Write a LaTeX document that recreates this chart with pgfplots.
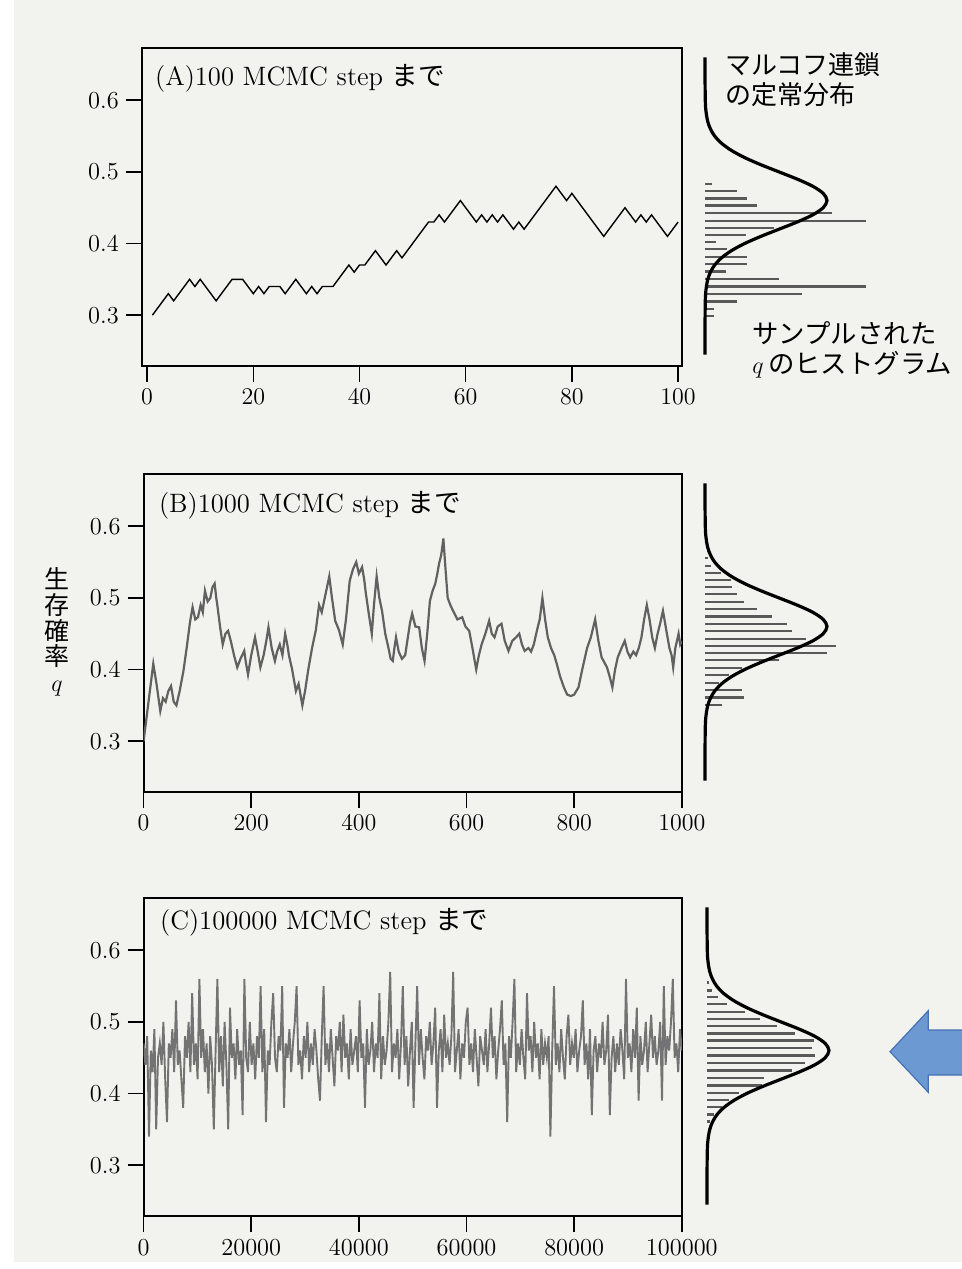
\documentclass[border=0pt]{standalone}
\usepackage{pgfplots}
\pgfplotsset{compat=1.18}
\usepackage{pgfplotstable}
\usepackage{fontspec}
\newfontfamily\cjk{Noto Sans CJK JP}
\definecolor{paper}{RGB}{242,242,239}
\definecolor{arrowfill}{RGB}{108,153,209}
\definecolor{arrowdraw}{RGB}{70,114,180}

% stationary distribution (x = density in px units, y = q)
\pgfplotstableread{
x y
0 0.245
0.1 0.30
0.3 0.32
0.6 0.33
1.4 0.34
2.8 0.35
5.4 0.36
9.7 0.37
16.5 0.38
26.4 0.39
39.6 0.40
55.9 0.41
74.0 0.42
92.1 0.43
107.7 0.44
118.2 0.45
122 0.46
118.2 0.47
107.7 0.48
92.1 0.49
74.0 0.50
55.9 0.51
39.6 0.52
26.4 0.53
16.5 0.54
9.7 0.55
5.4 0.56
2.8 0.57
1.4 0.58
0.6 0.59
0.3 0.60
0.1 0.62
0 0.66
}\curvetab

% trajectory (A)
\pgfplotstableread{
t q
1 0.30
2 0.31
3 0.32
4 0.33
5 0.32
6 0.33
7 0.34
8 0.35
9 0.34
10 0.35
11 0.34
12 0.33
13 0.32
14 0.33
15 0.34
16 0.35
17 0.35
18 0.35
19 0.34
20 0.33
21 0.34
22 0.33
23 0.34
24 0.34
25 0.34
26 0.33
27 0.34
28 0.35
29 0.34
30 0.33
31 0.34
32 0.33
33 0.34
34 0.34
35 0.34
36 0.35
37 0.36
38 0.37
39 0.36
40 0.37
41 0.37
42 0.38
43 0.39
44 0.38
45 0.37
46 0.38
47 0.39
48 0.38
49 0.39
50 0.40
51 0.41
52 0.42
53 0.43
54 0.43
55 0.44
56 0.43
57 0.44
58 0.45
59 0.46
60 0.45
61 0.44
62 0.43
63 0.44
64 0.43
65 0.44
66 0.43
67 0.44
68 0.43
69 0.42
70 0.43
71 0.42
72 0.43
73 0.44
74 0.45
75 0.46
76 0.47
77 0.48
78 0.47
79 0.46
80 0.47
81 0.46
82 0.45
83 0.44
84 0.43
85 0.42
86 0.41
87 0.42
88 0.43
89 0.44
90 0.45
91 0.44
92 0.43
93 0.44
94 0.43
95 0.44
96 0.43
97 0.42
98 0.41
99 0.42
100 0.43
}\trajA

% trajectory (B)
\pgfplotstableread{
t q
0 0.300
5 0.33
10 0.36
18 0.408
24 0.38
31 0.342
36 0.36
41 0.355
46 0.37
51 0.377
56 0.355
61 0.35
67 0.37
74 0.398
80 0.43
86 0.465
91 0.487
96 0.47
101 0.473
106 0.49
110 0.48
114 0.51
119 0.495
124 0.50
128 0.515
132 0.52
135 0.50
137 0.49
142 0.46
147 0.435
152 0.45
157 0.454
162 0.44
168 0.42
174 0.403
180 0.415
187 0.426
190 0.41
194 0.393
200 0.42
207 0.445
212 0.425
217 0.403
223 0.42
228 0.44
232 0.459
238 0.43
244 0.412
248 0.425
253 0.435
258 0.42
263 0.45
267 0.435
270 0.42
276 0.40
283 0.37
288 0.38
295 0.35
300 0.37
306 0.40
313 0.43
320 0.455
326 0.49
331 0.48
338 0.505
345 0.53
350 0.50
356 0.468
363 0.455
370 0.435
376 0.47
383 0.524
389 0.54
395 0.55
400 0.534
406 0.543
410 0.525
413 0.506
418 0.48
424 0.45
428 0.49
433 0.53
438 0.50
443 0.482
449 0.45
455 0.43
459 0.415
463 0.412
466 0.43
469 0.445
474 0.425
480 0.415
486 0.42
491 0.445
495 0.465
499 0.478
505 0.46
512 0.459
517 0.43
522 0.412
527 0.45
532 0.496
537 0.51
542 0.52
546 0.535
549 0.548
553 0.56
557 0.583
561 0.54
565 0.50
570 0.49
575 0.482
583 0.47
592 0.473
598 0.46
605 0.454
611 0.43
618 0.40
623 0.42
628 0.435
635 0.45
642 0.468
647 0.45
652 0.445
658 0.46
665 0.464
671 0.44
678 0.426
685 0.44
692 0.445
698 0.45
703 0.435
708 0.426
715 0.43
720 0.425
725 0.435
731 0.455
736 0.47
741 0.50
746 0.47
751 0.445
757 0.43
763 0.42
768 0.407
774 0.39
781 0.375
787 0.365
794 0.363
800 0.365
808 0.375
815 0.40
824 0.43
831 0.445
839 0.47
845 0.44
851 0.417
856 0.41
861 0.403
866 0.39
871 0.375
876 0.40
881 0.417
888 0.43
894 0.44
899 0.425
904 0.417
910 0.425
915 0.42
920 0.43
925 0.445
930 0.47
935 0.49
940 0.47
945 0.445
950 0.43
955 0.45
960 0.465
965 0.482
970 0.46
977 0.43
981 0.42
984 0.403
988 0.43
994 0.45
997 0.435
1000 0.44
}\trajB

% trajectory (C): 300 samples evenly spread over 0..100000
\pgfplotstableread{
q
0.47
0.44
0.48
0.34
0.46
0.43
0.49
0.35
0.45
0.47
0.44
0.50
0.42
0.36
0.47
0.45
0.49
0.43
0.53
0.44
0.46
0.42
0.38
0.48
0.45
0.50
0.43
0.54
0.44
0.47
0.42
0.56
0.45
0.49
0.43
0.47
0.40
0.48
0.44
0.35
0.46
0.56
0.43
0.48
0.41
0.50
0.44
0.35
0.52
0.45
0.47
0.42
0.49
0.44
0.46
0.37
0.56
0.45
0.43
0.50
0.44
0.47
0.42
0.48
0.45
0.55
0.43
0.49
0.36
0.46
0.44
0.50
0.54
0.45
0.43
0.48
0.46
0.55
0.38
0.47
0.45
0.49
0.43
0.47
0.50
0.55
0.44
0.46
0.42
0.48
0.45
0.50
0.43
0.47
0.44
0.49
0.46
0.42
0.39
0.48
0.55
0.44
0.47
0.43
0.49
0.45
0.41
0.48
0.46
0.50
0.43
0.51
0.45
0.47
0.42
0.49
0.44
0.46
0.48
0.43
0.53
0.45
0.47
0.38
0.49
0.44
0.46
0.50
0.43
0.47
0.45
0.54
0.42
0.48
0.44
0.46
0.50
0.57
0.43
0.47
0.45
0.49
0.42
0.47
0.55
0.44
0.48
0.41
0.46
0.50
0.38
0.47
0.55
0.44
0.49
0.45
0.42
0.48
0.46
0.50
0.44
0.47
0.52
0.38
0.46
0.49
0.43
0.51
0.45
0.47
0.44
0.48
0.57
0.43
0.46
0.49
0.42
0.47
0.45
0.50
0.52
0.44
0.47
0.43
0.49
0.45
0.41
0.48
0.46
0.44
0.49
0.43
0.47
0.52
0.45
0.48
0.42
0.46
0.49
0.53
0.44
0.47
0.36
0.48
0.45
0.50
0.56
0.43
0.47
0.44
0.49
0.45
0.42
0.54
0.46
0.48
0.43
0.50
0.45
0.47
0.42
0.49
0.44
0.47
0.45
0.48
0.34
0.46
0.55
0.44
0.47
0.43
0.49
0.45
0.42
0.48
0.51
0.44
0.47
0.45
0.49
0.43
0.46
0.48
0.53
0.44
0.47
0.42
0.49
0.37
0.46
0.48
0.43
0.47
0.45
0.50
0.44
0.46
0.51
0.37
0.45
0.48
0.43
0.47
0.44
0.49
0.46
0.42
0.56
0.45
0.47
0.43
0.49
0.45
0.52
0.39
0.48
0.44
0.46
0.50
0.43
0.47
0.51
0.45
0.48
0.44
0.46
0.50
0.39
0.55
0.44
0.48
0.46
0.50
0.56
0.45
0.47
0.43
0.49
0.46
}\trajC

\pgfplotsset{
  mainax/.style={scale only axis, width=270pt, height=159pt, anchor=north west,
    ymin=0.229, ymax=0.673, ytick={0.3,0.4,0.5,0.6}, yticklabels={0.3,0.4,0.5,0.6},
    tick align=outside, major tick length=8pt,
    axis line style={line width=0.9pt}, tick style={line width=0.8pt, black},
    tick label style={font=\fontsize{12.2}{14}\selectfont},
    /pgf/number format/1000 sep={},
    xtick pos=bottom, ytick pos=left, scaled x ticks=false},
  sideax/.style={scale only axis, width=90pt, height=159pt, anchor=north west,
    ymin=0.229, ymax=0.673, xmin=0, xmax=180, hide axis, clip=false},
  dens/.style={black, line width=1.6pt, smooth},
  hist/.style={xcomb, black!65, line width=1.1pt},
}
\tikzset{ttl/.style={anchor=west, font=\fontsize{13.3}{15}\selectfont, inner sep=0pt}}

\begin{document}
\begin{tikzpicture}
\useasboundingbox (0,0) rectangle (481pt,-634.5pt);
\fill[paper] (7pt,0) rectangle (481pt,-631pt);

% ---------------- (A)
\begin{axis}[mainax, at={(70.9pt,-24pt)}, width=270pt, xmin=-1, xmax=100.7,
  xtick={0,20,40,60,80,100}]
\addplot[black, line width=0.7pt] table[x=t, y=q] {\trajA};
\node[ttl] at (rel axis cs:0.024,0.906) {(A)100 MCMC step {\cjk まで}};
\end{axis}
\begin{axis}[sideax, at={(352.5pt,-24pt)}]
\addplot[hist] coordinates {(6.7,0.483) (32,0.473) (42,0.463) (52,0.453) (127,0.443)
  (161,0.432) (69,0.422) (41,0.4115) (11,0.402) (22,0.392) (42,0.381) (42,0.371)
  (21,0.361) (74,0.351) (161,0.340) (97,0.329) (32,0.319) (9,0.309) (9,0.299)};
\addplot[dens] table[x=x, y=y] {\curvetab};
\end{axis}

% ---------------- (B)
\begin{axis}[mainax, at={(71.8pt,-237pt)}, width=269.1pt, xmin=0, xmax=1000,
  xtick={0,200,400,600,800,1000}]
\addplot[black!62, line width=1.1pt] table[x=t, y=q] {\trajB};
\node[ttl] at (rel axis cs:0.028,0.903) {(B)1000 MCMC step {\cjk まで}};
\end{axis}
\begin{axis}[sideax, at={(352.5pt,-237pt)}]
\addplot[hist] coordinates {(3,0.556) (5.7,0.545) (15.7,0.535) (25.7,0.525) (26.7,0.515)
  (32,0.505) (39,0.494) (52,0.484) (67,0.474) (82,0.464) (87,0.454) (101,0.443)
  (131,0.433) (122,0.423) (74,0.413) (37,0.402) (24,0.392) (14,0.381) (37,0.371)
  (39,0.361) (17,0.350)};
\addplot[dens] table[x=x, y=y] {\curvetab};
\end{axis}

% ---------------- (C)
\begin{axis}[mainax, at={(71.8pt,-449pt)}, width=269.1pt, xmin=0, xmax=100000,
  xtick={0,20000,40000,60000,80000,100000},
  xticklabels={0,20000,40000,60000,80000,100000}]
\addplot[black!55, line width=0.95pt] table[x expr=\coordindex*334.448, y=q] {\trajC};
\node[ttl] at (rel axis cs:0.030,0.923) {(C)100000 MCMC step {\cjk まで}};
\end{axis}
\begin{axis}[sideax, at={(353.5pt,-449pt)}]
\addplot[hist, line width=1.2pt] coordinates {(2.3,0.555) (5,0.544) (11,0.535) (20,0.525)
  (38,0.514) (53,0.504) (70,0.494) (88,0.484) (107,0.474) (105,0.4635) (108,0.453)
  (98,0.4426) (85,0.432) (57,0.422) (55,0.411) (32,0.401) (22,0.391) (15,0.381)
  (7,0.371) (3,0.361)};
\addplot[dens] table[x=x, y=y] {\curvetab};
\end{axis}

% ---------------- annotations
\begin{scope}[every node/.style={anchor=west, inner sep=0pt}]
\node[font=\cjk\fontsize{13}{14}\selectfont] at (362.5pt,-32.5pt) {マルコフ連鎖};
\node[font=\cjk\fontsize{13}{14}\selectfont] at (362.5pt,-47.5pt) {の定常分布};
\node[font=\cjk\fontsize{13.2}{15}\selectfont] at (376pt,-166.5pt) {サンプルされた};
\node[font=\cjk\fontsize{13.2}{15}\selectfont] at (376pt,-182.5pt) {$q$\,のヒストグラム};
\end{scope}
\node[align=center, inner sep=0pt, font=\cjk\fontsize{12.5}{12.8}\selectfont] at (28.5pt,-316pt)
  {生\\存\\確\\率\\$q$};

% blue arrow
\filldraw[fill=arrowfill, draw=arrowdraw, line width=0.6pt]
  (445pt,-525.85pt) -- (464.15pt,-505.35pt) -- (464.15pt,-515pt) -- (482pt,-515pt)
  -- (482pt,-537.5pt) -- (464.15pt,-537.5pt) -- (464.15pt,-546.15pt) -- cycle;
\end{tikzpicture}
\end{document}
